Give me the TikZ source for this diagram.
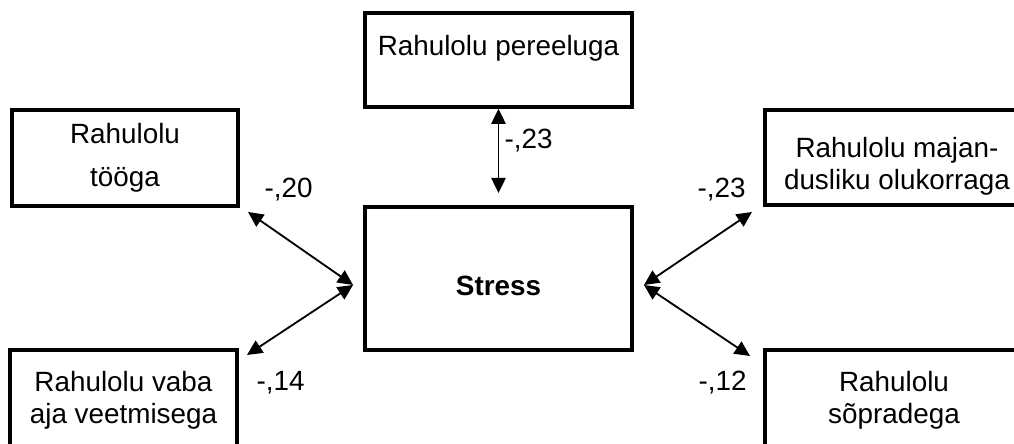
\documentclass[tikz,border=0pt]{standalone}
\usepackage{fontspec}
\setmainfont{Liberation Sans}
\usetikzlibrary{arrows.meta}

\begin{document}
\begin{tikzpicture}[x=0.025cm,y=-0.025cm,
    >={Triangle[length=0.38cm,width=0.36cm]},
    box/.style={draw,line width=2.5pt,inner sep=0pt,align=center,
      font=\fontsize{19.8pt}{22.5pt}\selectfont},
    coef/.style={inner sep=0pt,font=\fontsize{19.8pt}{22.5pt}\selectfont}]
  \clip (0,0) rectangle (1014,444);
  % boxes
  \node[box,minimum width=6.675cm,minimum height=2.35cm] (pere) at (498.5,60)
    {Rahulolu pereeluga\rule[-0.74cm]{0pt}{0pt}};
  \node[box,minimum width=5.65cm,minimum height=2.4cm] (too) at (125,158)
    {Rahulolu\\[8pt]tööga};
  \node[box,minimum width=6.6cm,minimum height=2.375cm] (maj) at (897,157.5)
    {\rule{0pt}{0.96cm}Rahulolu majan-\\dusliku olukorraga};
  \node[box,minimum width=6.675cm,minimum height=3.575cm] (stress) at (498.5,278.5)
    {\rule{0pt}{0.85cm}\bfseries Stress};
  \node[box,minimum width=5.675cm,minimum height=2.5cm] (vaba) at (123.5,400)
    {Rahulolu vaba\\aja veetmisega};
  \node[box,minimum width=6.45cm,minimum height=2.5cm] (sopr) at (894,400)
    {Rahulolu\\sõpradega};
  % arrow ends
  \coordinate (stN) at (498.5,193);
  \coordinate (stW) at (353,285);
  \coordinate (stE) at (644,285);
  \coordinate (tooE) at (248,212);
  \coordinate (vabaE) at (247,355);
  \coordinate (majW) at (752,212);
  \coordinate (soprW) at (750,356);
  \path[<->,line width=1.3pt]
    (pere.south) edge (stN)
    (tooE) edge (stW)
    (vabaE) edge (stW)
    (majW) edge (stE)
    (soprW) edge (stE)
  ;
  % coefficients
  \node[coef] (cPere) at (528.5,141) {-,23};
  \node[coef] (cToo) at (288.5,190) {-,20};
  \node[coef] (cMaj) at (721.5,190) {-,23};
  \node[coef] (cVaba) at (280.5,383) {-,14};
  \node[coef] (cSopr) at (722.5,383) {-,12};
\end{tikzpicture}
\end{document}
